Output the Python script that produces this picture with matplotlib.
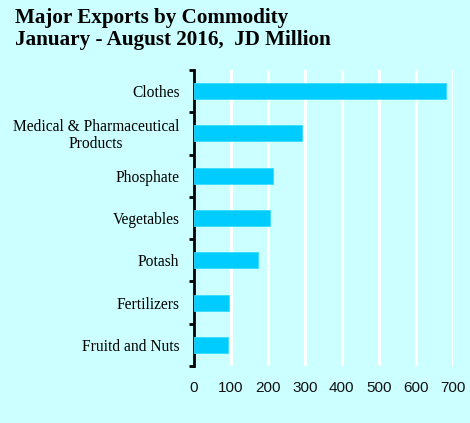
import matplotlib
matplotlib.use("Agg")
import matplotlib.pyplot as plt
import numpy as np

# Major exports, January - August 2016 (JD million)
commodities = [
    "Clothes",
    "Medical & Pharmaceutical\nProducts",
    "Phosphate",
    "Vegetables",
    "Potash",
    "Fertilizers",
    "Fruitd and Nuts",
]
values = [682, 293, 214, 206, 172, 94, 92]
x_ticks = [0, 100, 200, 300, 400, 500, 600, 700]

BG = "#CCFFFF"
BAR = "#00CCFF"

fig = plt.figure(figsize=(4.70, 4.23), dpi=100, facecolor=BG)
ax = fig.add_axes([194 / 470, 1 - 366 / 423, (452.5 - 194) / 470, (366 - 70) / 423])
ax.set_facecolor(BG)

y = np.arange(len(commodities))
ax.set_ylim(len(commodities) - 0.5, -0.5)
ax.set_xlim(0, 700)

ax.set_xticks(x_ticks)
ax.grid(axis="x", color="white", linewidth=2.2, zorder=0)
ax.set_axisbelow(True)

ax.barh(y, values, height=0.38, color=BAR, edgecolor="#33DDFF",
        linewidth=0.6, zorder=3)

for side in ("top", "right", "bottom"):
    ax.spines[side].set_visible(False)
ax.spines["left"].set_linewidth(2.0)
ax.spines["left"].set_color("black")

# Category labels at bar centres, tick marks at category boundaries
ax.set_yticks(y)
ax.set_yticklabels(commodities, fontfamily="Liberation Serif", fontsize=11.2,
                   multialignment="center", linespacing=1.05)
ax.tick_params(axis="y", which="major", length=0, pad=10.5)
ax.set_yticks(np.arange(-0.5, len(commodities)), minor=True)
ax.tick_params(axis="y", which="minor", length=3.5, width=2, color="black",
               direction="out")

ax.set_xticklabels([str(v) for v in x_ticks], fontfamily="Liberation Sans",
                   fontsize=11)
ax.tick_params(axis="x", length=0, pad=11, colors="#111111")

fig.text(15 / 470, 1 - 8 / 423,
         "Major Exports by Commodity\nJanuary - August 2016,  JD Million",
         fontfamily="Liberation Serif", fontweight="bold", fontsize=15.2,
         ha="left", va="top", linespacing=1.1, color="black")

fig.savefig("out.png", dpi=100, facecolor=BG)
